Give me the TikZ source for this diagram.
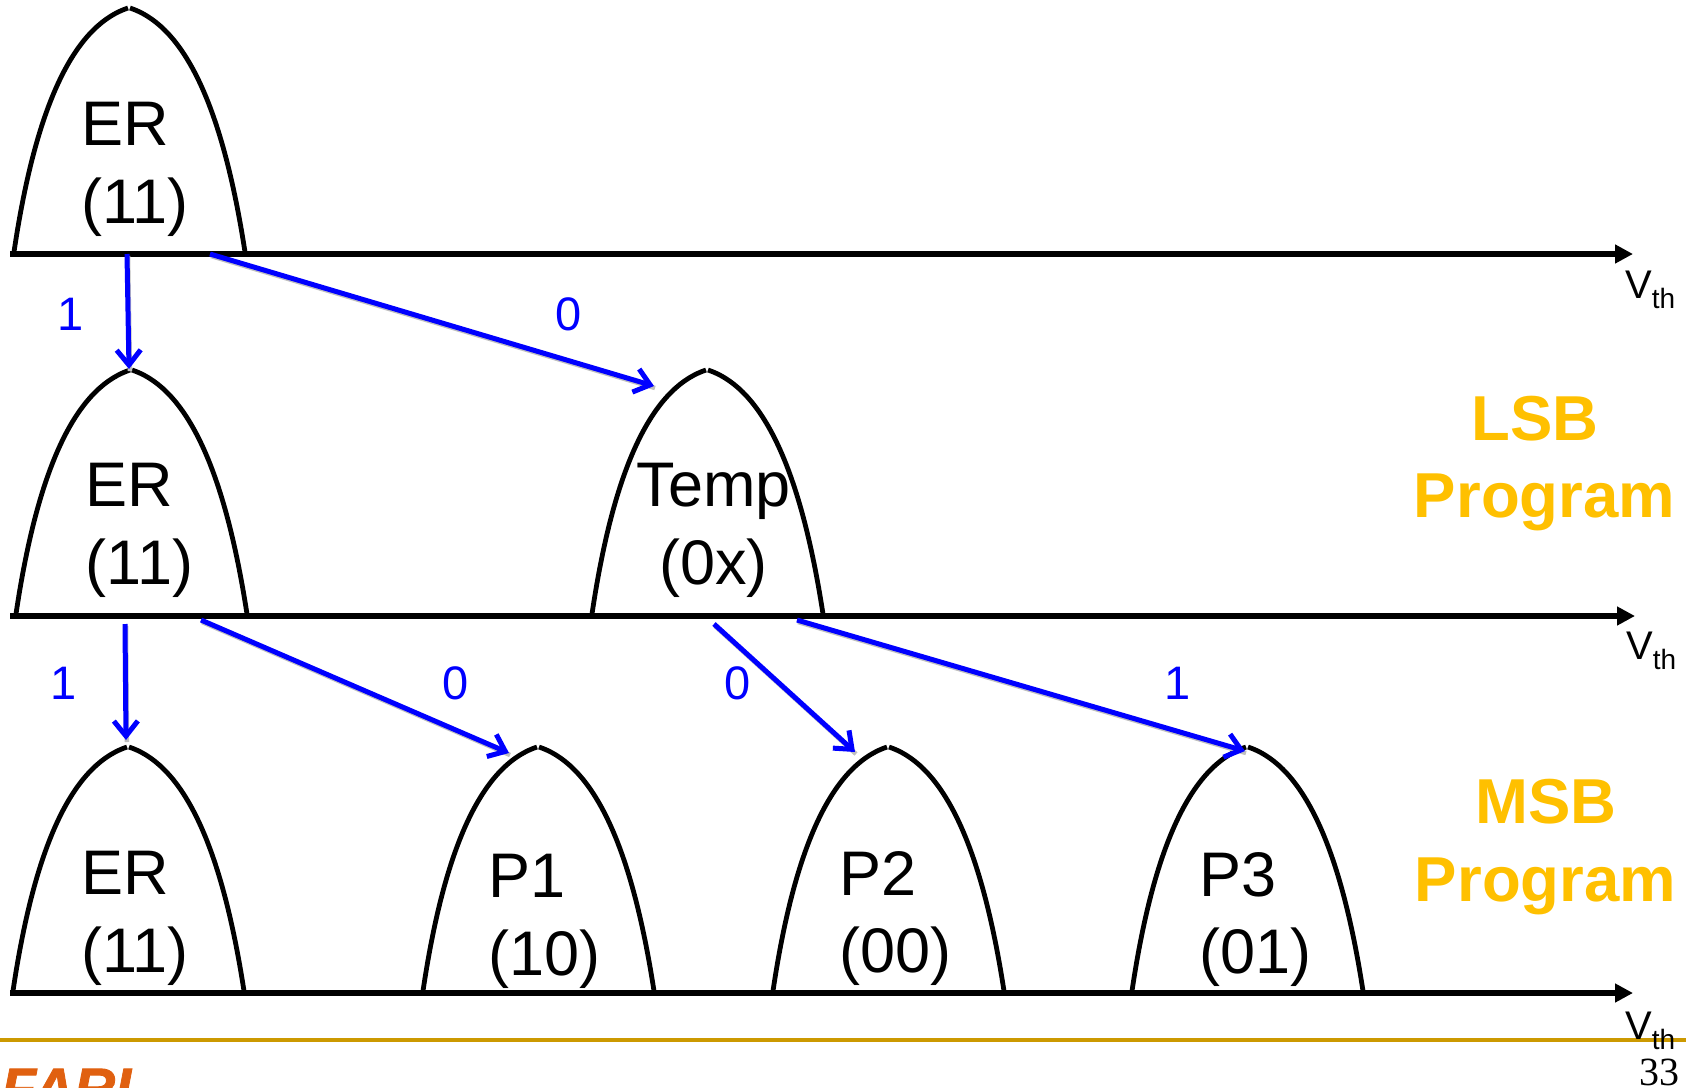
\documentclass[tikz,border=0pt]{standalone}
\usepackage{fontspec}
\setmainfont{Liberation Sans}
\newfontfamily\pagefont{Liberation Serif}
\usepackage{xcolor}
\usepackage{tikz}
\usetikzlibrary{arrows.meta}
\definecolor{lsbyellow}{HTML}{FFC000}
\definecolor{footline}{HTML}{CC9900}
\definecolor{logoorange}{HTML}{E06010}
\newcommand{\vthlabel}{V\raisebox{-10pt}{\fontsize{28}{28}\selectfont th}}
\tikzset{
    axisline/.style={line width=5.5pt, -{Triangle[length=18pt, width=18pt]}},
    humpline/.style={line width=4.8pt},
    statelabel/.style={font=\fontsize{63}{77.5}\selectfont, align=left, anchor=west, inner sep=0pt},
    bitarrow/.style={draw=blue, line width=5pt, -{Straight Barb[length=15pt, width=24pt, line width=5pt]},
        preaction={draw=black!25, line width=4.5pt, -, transform canvas={shift={(1pt,-2pt)}}}},
    bitlabel/.style={font=\fontsize{47}{47}\selectfont, text=blue, inner sep=0pt},
    phaselabel/.style={font=\fontsize{63.5}{63.5}\selectfont\bfseries, text=lsbyellow, inner sep=0pt},
    vthnode/.style={font=\fontsize{40}{40}\selectfont, anchor=base west, inner sep=0pt}
}
\begin{document}
\begin{tikzpicture}[x=1pt, y=-1pt]
    \useasboundingbox (0,0) rectangle (1686,1087);
    \clip (0,0) rectangle (1686,1087);
    % 1. Footer
    \draw[footline, line width=3.5pt] (0,1040) -- (1686,1040);
    \node[font=\fontsize{57}{57}\selectfont\bfseries\itshape\addfontfeature{FakeBold=1.5}, text=logoorange, anchor=base west, inner sep=0pt] (logo) at (1,1108) {FARI};
    \node[font=\fontsize{40}{40}\selectfont\pagefont, anchor=base east, inner sep=0pt] (pagenum) at (1680,1085) {33};

    % 2. Axes
    \draw[axisline] (10,254) -- (1633,254);
    \draw[axisline] (10,616) -- (1635,616);
    \draw[axisline] (10,993) -- (1633,993);
    \node[vthnode] (vthA) at (1625,298) {\vthlabel};
    \node[vthnode] (vthB) at (1626,659) {\vthlabel};
    \node[vthnode] (vthC) at (1625,1039) {\vthlabel};

    % 3. Humps: left foot, axis level
    \foreach \hx/\hy in {14/252, 16/614, 592/614, 13/991, 423/991, 773/991, 1132/991} {
        \begin{scope}[shift={(\hx,\hy)}]
            \draw[humpline] (0,0) .. controls (24,-162) and (66,-228) .. (114,-244);
            \draw[humpline] (116,-244) .. controls (164,-228) and (206,-162) .. (231,0);
        \end{scope}
    }

    % 4. State labels
    \node[statelabel] (erA) at (81,169.5) {ER\\(11)};
    \node[statelabel] (erB) at (85.5,530.5) {ER\\(11)};
    \node[statelabel, align=center, anchor=center] (temp) at (713.5,530.5) {Temp\\(0x)};
    \node[statelabel] (erC) at (81,918.5) {ER\\(11)};
    \node[statelabel] (pOne) at (488,921.5) {P1\\(10)};
    \node[statelabel] (pTwo) at (839,918.5) {P2\\(00)};
    \node[statelabel] (pThree) at (1199,919.5) {P3\\(01)};

    % 5. Phase labels
    \node[phaselabel] (lsb) at (1535,419) {LSB};
    \node[phaselabel] (lsbprog) at (1544.5,502) {Program};
    \node[phaselabel] (msb) at (1546,802) {MSB};
    \node[phaselabel] (msbprog) at (1545.5,886) {Program};

    % 6. Programming arrows
    \coordinate (erAdown) at (127,254);
    \coordinate (erAright) at (210,254);
    \coordinate (erBtop) at (129,369);
    \coordinate (tempTop) at (654,386);
    \coordinate (erBdown) at (125,624);
    \coordinate (erBright) at (201,620);
    \coordinate (tempDown) at (714,624);
    \coordinate (tempRight) at (797,620);
    \coordinate (erCtop) at (126,740);
    \coordinate (pOneTop) at (509,753);
    \coordinate (pTwoTop) at (855,752);
    \coordinate (pThreeTop) at (1245,751);
    \draw[bitarrow] (erAdown) -- (erBtop);
    \draw[bitarrow] (erAright) -- (tempTop);
    \draw[bitarrow] (erBdown) -- (erCtop);
    \draw[bitarrow] (erBright) -- (pOneTop);
    \draw[bitarrow] (tempDown) -- (pTwoTop);
    \draw[bitarrow] (tempRight) -- (pThreeTop);
    \node[bitlabel] (bitA) at (71,314) {1};
    \node[bitlabel] (bitB) at (569,314) {0};
    \node[bitlabel] (bitC) at (64,683) {1};
    \node[bitlabel] (bitD) at (456,683) {0};
    \node[bitlabel] (bitE) at (738,683) {0};
    \node[bitlabel] (bitF) at (1178,683) {1};
\end{tikzpicture}
\end{document}
